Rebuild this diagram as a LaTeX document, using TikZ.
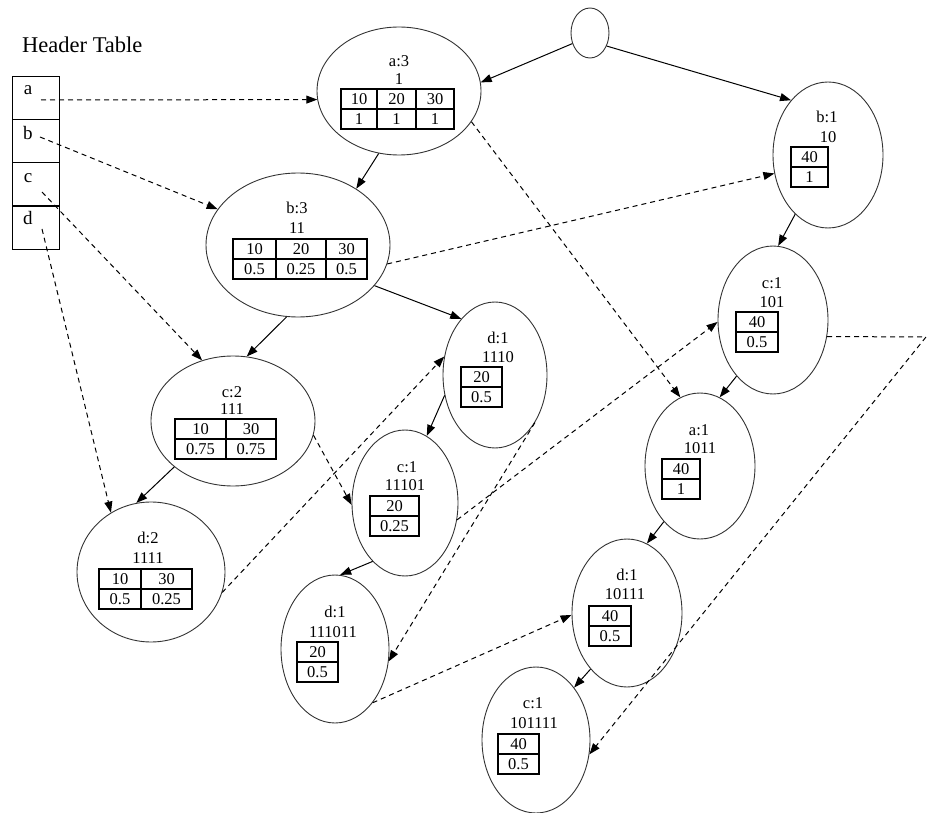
\documentclass[tikz,border=0pt]{standalone}
\usepackage{fontspec}
\setmainfont{Liberation Serif}
\usetikzlibrary{shapes.geometric,arrows.meta}
\tikzset{
  ell/.style={draw=black!80, ellipse, inner sep=0pt, line width=0.9pt},
  txt/.style={inner sep=0pt, font=\fontsize{16.5}{18}\selectfont},
  hlet/.style={inner sep=0pt, anchor=base, font=\fontsize{19}{21}\selectfont},
  hcell/.style={draw, line width=1.1pt, minimum width=47pt, minimum height=43pt, anchor=north west, inner sep=0pt},
  tab/.style={line width=1.1pt},
  arr/.style={-{Triangle[length=11pt,width=8pt]}, line width=1pt},
  dsh/.style={arr, dash pattern=on 5pt off 4pt},
}
% one-column table: name, left, right, top, upper text, lower text
\newcommand{\onecol}[6]{%
  \draw[tab] (#2,#4) rectangle (#3,#4+40);
  \draw[tab] (#2,#4+20) -- (#3,#4+20);
  \node[txt] (#1-t) at ({(#2+#3)/2},#4+10) {#5};
  \node[txt] (#1-b) at ({(#2+#3)/2},#4+30) {#6};
}
% two-column table: name, left, mid, right, top, a, b, c, d
\newcommand{\twocol}[9]{%
  \draw[tab] (#2,#5) rectangle (#4,#5+40);
  \draw[tab] (#2,#5+20) -- (#4,#5+20);
  \draw[tab] (#3,#5) -- (#3,#5+40);
  \node[txt] (#1-t1) at ({(#2+#3)/2},#5+10) {#6};
  \node[txt] (#1-t2) at ({(#3+#4)/2},#5+10) {#7};
  \node[txt] (#1-b1) at ({(#2+#3)/2},#5+30) {#8};
  \node[txt] (#1-b2) at ({(#3+#4)/2},#5+30) {#9};
}
% three-column grid: name, l, c1, c2, r, top
\newcommand{\threegrid}[6]{%
  \draw[tab] (#2,#6) rectangle (#5,#6+40);
  \draw[tab] (#2,#6+20) -- (#5,#6+20);
  \draw[tab] (#3,#6) -- (#3,#6+40);
  \draw[tab] (#4,#6) -- (#4,#6+40);
}
\begin{document}
\begin{tikzpicture}[x=1pt,y=-1pt]
\useasboundingbox (0,0) rectangle (927,813);

% ---------- header table ----------
\node[inner sep=0pt, anchor=base west, font=\fontsize{22.5}{24}\selectfont] (htitle) at (22,53) {Header Table};
\node[hcell] (hA) at (12,76) {};
\node[hcell] (hB) at (12,119) {};
\node[hcell] (hC) at (12,162) {};
\node[hcell] (hD) at (12,206) {};
\node[hlet] (la) at (28,95) {a};
\node[hlet] (lb) at (28,140) {b};
\node[hlet] (lc) at (28,183) {c};
\node[hlet] (ld) at (28,225) {d};
\coordinate (sa) at (41,100);
\coordinate (sb) at (40,137);
\coordinate (sc) at (42,192);
\coordinate (sd) at (42,229);

% ---------- tree nodes ----------
\node[ell, minimum width=38pt, minimum height=50pt] (root) at (590,33) {};
\node[ell, minimum width=164pt, minimum height=128pt] (a3) at (399,91) {};
\node[ell, minimum width=184pt, minimum height=144pt] (b3) at (298,245) {};
\node[ell, minimum width=164pt, minimum height=130pt] (c2) at (233,421) {};
\node[ell, minimum width=148pt, minimum height=140pt] (d2) at (151,572) {};
\node[ell, minimum width=104pt, minimum height=146pt] (d1a) at (495,375) {};
\node[ell, minimum width=106pt, minimum height=146pt] (c1b) at (405,503) {};
\node[ell, minimum width=108pt, minimum height=148pt] (d1c) at (335,649) {};
\node[ell, minimum width=110pt, minimum height=146pt] (b1) at (828,155) {};
\node[ell, minimum width=110pt, minimum height=148pt] (c1r) at (773,320) {};
\node[ell, minimum width=110pt, minimum height=146pt] (a1) at (700,466) {};
\node[ell, minimum width=110pt, minimum height=148pt] (d1r) at (627,613) {};
\node[ell, minimum width=108pt, minimum height=146pt] (c1f) at (536,740) {};

% ---------- labels ----------
\node[txt] (a3-l1) at (399,61) {a:3};
\node[txt] (a3-l2) at (399,79) {1};
\node[txt] (b3-l1) at (297,208) {b:3};
\node[txt] (b3-l2) at (297,228) {11};
\node[txt] (c2-l1) at (232,392) {c:2};
\node[txt] (c2-l2) at (232,409) {111};
\node[txt] (d2-l1) at (148,538) {d:2};
\node[txt] (d2-l2) at (148,558) {1111};
\node[txt] (d1a-l1) at (498,338) {d:1};
\node[txt] (d1a-l2) at (498,357) {1110};
\node[txt] (c1b-l1) at (407,467) {c:1};
\node[txt] (c1b-l2) at (405,485) {11101};
\node[txt] (d1c-l1) at (335,612) {d:1};
\node[txt] (d1c-l2) at (333,632) {111011};
\node[txt] (b1-l1) at (827,117) {b:1};
\node[txt] (b1-l2) at (828,137) {10};
\node[txt] (c1r-l1) at (772,283) {c:1};
\node[txt] (c1r-l2) at (772,302) {101};
\node[txt] (a1-l1) at (699,430) {a:1};
\node[txt] (a1-l2) at (700,448) {1011};
\node[txt] (d1r-l1) at (627,575) {d:1};
\node[txt] (d1r-l2) at (625,594) {10111};
\node[txt] (c1f-l1) at (533,703) {c:1};
\node[txt] (c1f-l2) at (534,723) {101111};

% ---------- tables ----------
\threegrid{a3}{341}{377}{416}{454}{89}
\node[txt] (a3-t1) at (359,99) {10};
\node[txt] (a3-t2) at (396.5,99) {20};
\node[txt] (a3-t3) at (435,99) {30};
\node[txt] (a3-b1) at (359,119) {1};
\node[txt] (a3-b2) at (396.5,119) {1};
\node[txt] (a3-b3) at (435,119) {1};

\threegrid{b3}{233}{276}{326}{367}{239}
\node[txt] (b3-t1) at (254.5,249) {10};
\node[txt] (b3-t2) at (301,249) {20};
\node[txt] (b3-t3) at (346.5,249) {30};
\node[txt] (b3-b1) at (254.5,269) {0.5};
\node[txt] (b3-b2) at (301,269) {0.25};
\node[txt] (b3-b3) at (346.5,269) {0.5};

\twocol{c2}{175}{226}{276}{419}{10}{30}{0.75}{0.75}
\twocol{d2}{99}{141}{192}{569}{10}{30}{0.5}{0.25}
\onecol{d1a}{461}{502}{367}{20}{0.5}
\onecol{c1b}{370}{419}{496}{20}{0.25}
\onecol{d1c}{297}{338}{642}{20}{0.5}
\onecol{b1}{791}{828}{147}{40}{1}
\onecol{c1r}{736}{778}{312}{40}{0.5}
\onecol{a1}{662}{700}{459}{40}{1}
\onecol{d1r}{589}{631}{606}{40}{0.5}
\onecol{c1f}{498}{539}{734}{40}{0.5}

% ---------- tree edges ----------
\draw[arr] (root.211) -- (a3.6);
\draw[arr] (root.-38) -- (b1.124.6);
\draw[arr] (a3.-108) -- (b3.44);
\draw[arr] (b3.-99) -- (c2.78);
\draw[arr] (b3.-28) -- (d1a.121.5);
\draw[arr] (c2.-142) -- (d2.102);
\draw[arr] (d1a.202.6) -- (c1b.72);
\draw[arr] (c1b.-119) -- (d1c.86);
\draw[arr] (b1.241.7) -- (c1r.86);
\draw[arr] (c1r.237.5) -- (a1.74.7);
\draw[arr] (a1.237) -- (d1r.74.7);
\draw[arr] (d1r.237) -- (c1f.54.7);

% ---------- node links (dashed) ----------
\coordinate (bend) at (926,337);
\draw[dsh] (sa) -- (a3.186);
\draw[dsh] (sb) -- (b3.156);
\draw[dsh] (sc) -- (c2.117);
\draw[dsh] (sd) -- (d2.124);
\draw[dsh] (a3.-23) -- (a1.106.6);
\draw[dsh] (b3.-12.5) -- (b1.199);
\draw[dsh] (c2.-10) -- (c1b.182);
\draw[dsh] (c1b.-18) -- (c1r.182);
\draw[dsh] (c1r.-17.5) -- (bend) -- (c1f.-15);
\draw[dsh] (d2.-16) -- (d1a.160);
\draw[dsh] (d1a.-50.6) -- (d1c.-13);
\draw[dsh] (d1c.-55) -- (d1r.182);
\end{tikzpicture}
\end{document}
